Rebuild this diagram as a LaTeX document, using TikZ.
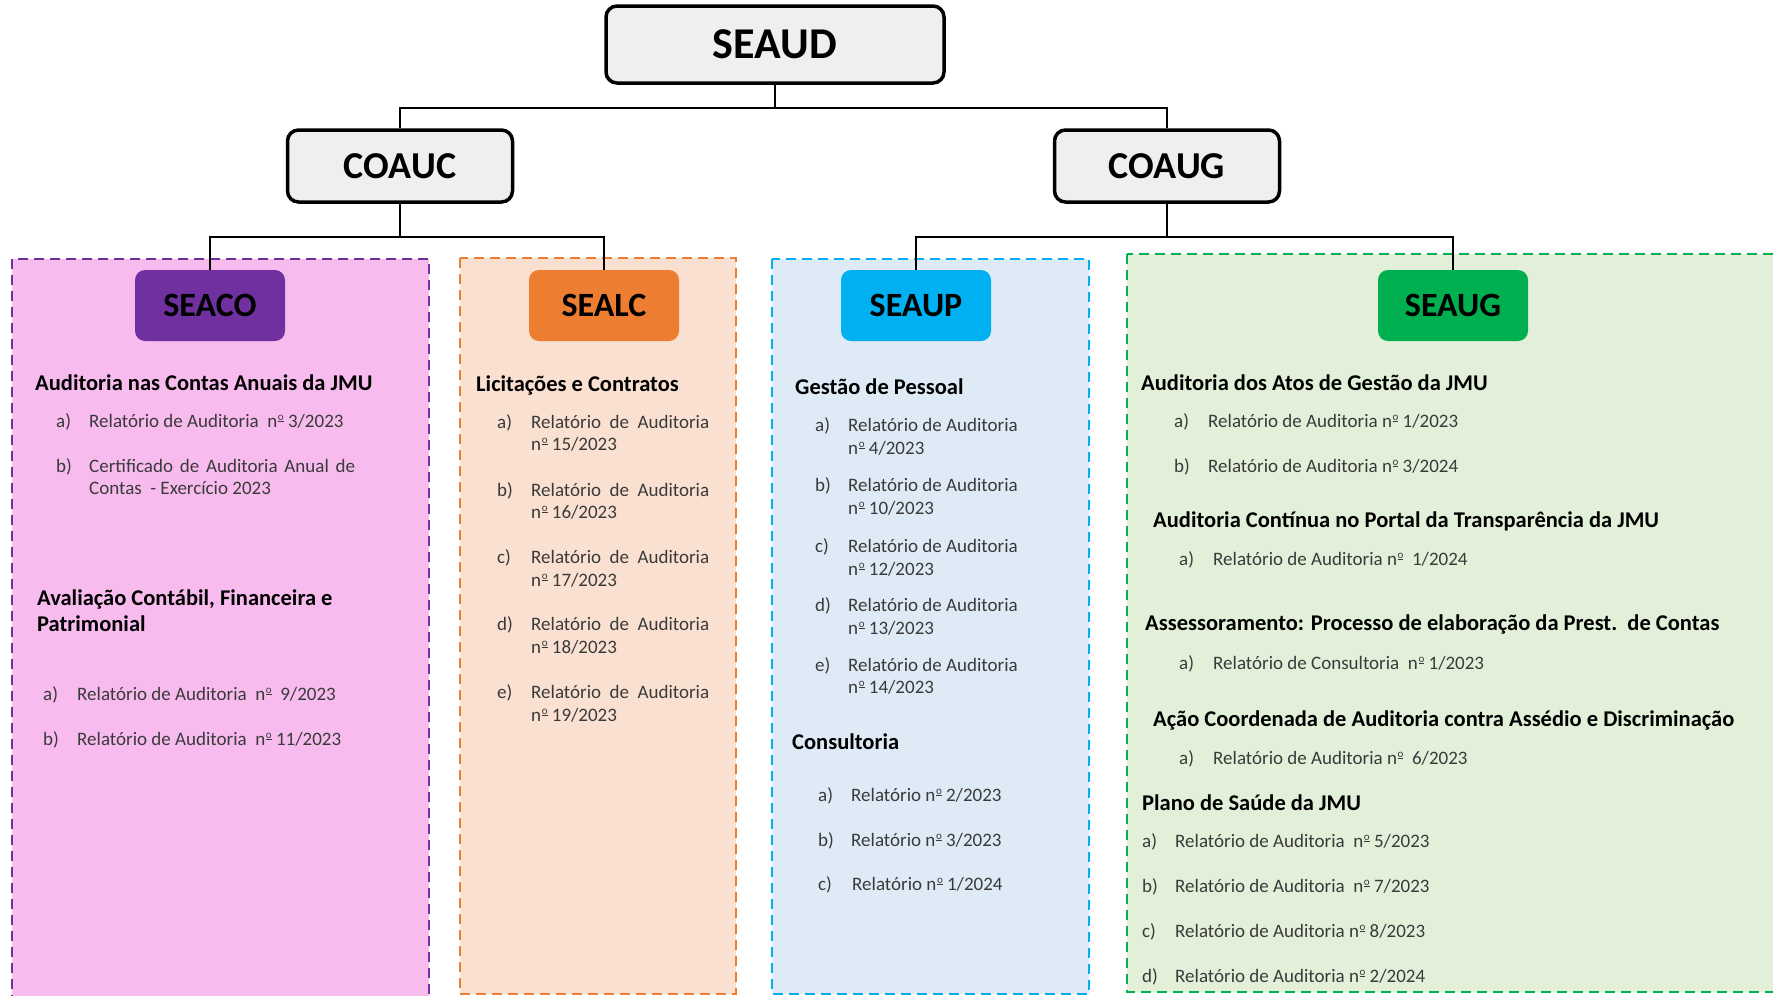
\documentclass[tikz,border=0pt]{standalone}
\usepackage{fontspec}
\setmainfont{Carlito}
\usetikzlibrary{calc}
\definecolor{purp}{HTML}{7030A0}
\definecolor{orng}{HTML}{ED7D31}
\definecolor{blu}{HTML}{00B0F0}
\definecolor{grn}{HTML}{00B050}
\definecolor{pinkbg}{HTML}{F8BBEE}
\definecolor{orngbg}{HTML}{FAE0D0}
\definecolor{blubg}{HTML}{DEEBF7}
\definecolor{grnbg}{HTML}{E2F0D9}
\definecolor{greybox}{HTML}{EFEFEF}
\definecolor{itemgray}{HTML}{3A3A3A}
\newcommand{\nordm}{n\kern0.6pt\raisebox{0.36em}{\fontsize{11}{11}\selectfont\underline{o}}}
\tikzset{
  panel/.style={line width=2.4pt, dash pattern=on 10pt off 6pt},
  topbox/.style={draw=black, line width=3.5pt, fill=greybox, rounded corners=11pt, font=\bfseries\fontsize{38}{40}\selectfont, minimum width=225pt, minimum height=72pt, inner sep=0pt},
  secbox/.style={rounded corners=10pt, font=\bfseries\fontsize{34}{36}\selectfont, minimum width=150pt, minimum height=71pt, inner sep=0pt},
  conn/.style={line width=2.2pt, draw=black},
  head/.style={anchor=base west, inner sep=0pt, font=\bfseries\fontsize{22.5}{26}\selectfont, text=black},
  item/.style={anchor=base west, inner sep=0pt, font=\fontsize{19}{22}\selectfont, text=itemgray},
}
\begin{document}
\begin{tikzpicture}[x=1pt,y=-1pt]
\useasboundingbox (0,0) rectangle (1773,996);
\begin{scope}
\clip (0,0) rectangle (1773,996);
% dashed panels
\draw[panel, draw=purp, fill=pinkbg] (12,259) rectangle (429,1010);
\draw[panel, draw=orng, fill=orngbg] (460,258) rectangle (736,994);
\draw[panel, draw=blu, fill=blubg] (772,259) rectangle (1089,994);
\draw[panel, draw=grn, fill=grnbg] (1127,254) rectangle (1800,992);
\end{scope}

% top boxes
\node[topbox, minimum width=338pt, minimum height=77pt, font=\bfseries\fontsize{44}{46}\selectfont] (SEAUD) at (775,44.5) {SEAUD};
\node[topbox] (COAUC) at (400,166) {COAUC};
\node[topbox] (COAUG) at (1167,166) {COAUG};

% section boxes
\node[secbox, fill=purp] (SEACO) at (210,305.5) {SEACO};
\node[secbox, fill=orng] (SEALC) at (604,305.5) {SEALC};
\node[secbox, fill=blu] (SEAUP) at (916,305.5) {SEAUP};
\node[secbox, fill=grn] (SEAUG) at (1453,305.5) {SEAUG};

% connectors
\draw[conn] (SEAUD.south) -- ++(0,23) -| (COAUC.north);
\draw[conn] (SEAUD.south) -- ++(0,23) -| (COAUG.north);
\draw[conn] (COAUC.south) -- ++(0,33) -| (SEACO.north);
\draw[conn] (COAUC.south) -- ++(0,33) -| (SEALC.north);
\draw[conn] (COAUG.south) -- ++(0,33) -| (SEAUP.north);
\draw[conn] (COAUG.south) -- ++(0,33) -| (SEAUG.north);

% ---- SEACO panel
\node[head] (coH1) at (35,390) {Auditoria nas Contas Anuais da JMU};
\node[item] (coA1l) at (56,427) {a)};
\node[item] (coA1) at (89,427) {Relatório de Auditoria\ \ \nordm\ 3/2023};
\node[item] (coB1l) at (56,472) {b)};
\node[item] (coB1) at (89,472) {\makebox[266pt][s]{Certificado de Auditoria Anual de}};
\node[item] (coB1b) at (89,494) {Contas\ \ - Exercício 2023};
\node[head] (coH2) at (37,605) {Avaliação Contábil, Financeira e};
\node[head] (coH2b) at (37,631) {Patrimonial};
\node[item] (coA2l) at (43,700) {a)};
\node[item] (coA2) at (77,700) {Relatório de Auditoria\ \ \nordm\ \ 9/2023};
\node[item] (coB2l) at (43,745) {b)};
\node[item] (coB2) at (77,745) {Relatório de Auditoria\ \ \nordm\ 11/2023};

% ---- SEALC panel
\node[head] (lcH) at (476,391) {Licitações e Contratos};
\foreach \lab/\num/\ya/\yb in {a/15/428/450, b/16/496/518, c/17/563/586, d/18/630/653, e/19/698/721}{
  \node[item] (lc\lab l) at (497,\ya) {\lab)};
  \node[item] (lc\lab 1) at (531,\ya) {\makebox[178pt][s]{Relatório de Auditoria}};
  \node[item] (lc\lab 2) at (531,\yb) {\nordm\ \num/2023};
}

% ---- SEAUP panel
\node[head] (upH1) at (795,394) {Gestão de Pessoal};
\foreach \lab/\num/\ya/\yb in {a/4/431/454, b/10/491/514, c/12/552/575, d/13/611/634, e/14/671/693}{
  \node[item] (up\lab l) at (815,\ya) {\lab)};
  \node[item] (up\lab 1) at (848,\ya) {Relatório de Auditoria};
  \node[item] (up\lab 2) at (848,\yb) {\nordm\ \num/2023};
}
\node[head] (upH2) at (792,749) {Consultoria};
\node[item] (upCal) at (818,801) {a)};
\node[item] (upCa) at (851,801) {Relatório \nordm\ 2/2023};
\node[item] (upCbl) at (818,846) {b)};
\node[item] (upCb) at (851,846) {Relatório \nordm\ 3/2023};
\node[item] (upCcl) at (818,890) {c)};
\node[item] (upCc) at (852,890) {Relatório \nordm\ 1/2024};

% ---- SEAUG panel
\node[head] (ugH1) at (1141,390) {Auditoria dos Atos de Gestão da JMU};
\node[item] (ug1al) at (1174,427) {a)};
\node[item] (ug1a) at (1208,427) {Relatório de Auditoria \nordm\ 1/2023};
\node[item] (ug1bl) at (1174,472) {b)};
\node[item] (ug1b) at (1208,472) {Relatório de Auditoria \nordm\ 3/2024};
\node[head] (ugH2) at (1153,527) {Auditoria Contínua no Portal da Transparência da JMU};
\node[item] (ug2al) at (1179,565) {a)};
\node[item] (ug2a) at (1213,565) {Relatório de Auditoria \nordm\ \ 1/2024};
\node[head] (ugH3) at (1145,630) {Assessoramento: Processo de elaboração da Prest.\ \ de Contas};
\node[item] (ug3al) at (1179,669) {a)};
\node[item] (ug3a) at (1213,669) {Relatório de Consultoria\ \ \nordm\ 1/2023};
\node[head] (ugH4) at (1153,726) {Ação Coordenada de Auditoria contra Assédio e Discriminação};
\node[item] (ug4al) at (1179,764) {a)};
\node[item] (ug4a) at (1213,764) {Relatório de Auditoria \nordm\ \ 6/2023};
\node[head] (ugH5) at (1142,810) {Plano de Saúde da JMU};
\node[item] (ug5al) at (1142,847) {a)};
\node[item] (ug5a) at (1175,847) {Relatório de Auditoria\ \ \nordm\ 5/2023};
\node[item] (ug5bl) at (1142,892) {b)};
\node[item] (ug5b) at (1175,892) {Relatório de Auditoria\ \ \nordm\ 7/2023};
\node[item] (ug5cl) at (1142,937) {c)};
\node[item] (ug5c) at (1175,937) {Relatório de Auditoria \nordm\ 8/2023};
\node[item] (ug5dl) at (1142,982) {d)};
\node[item] (ug5d) at (1175,982) {Relatório de Auditoria \nordm\ 2/2024};
\end{tikzpicture}
\end{document}
